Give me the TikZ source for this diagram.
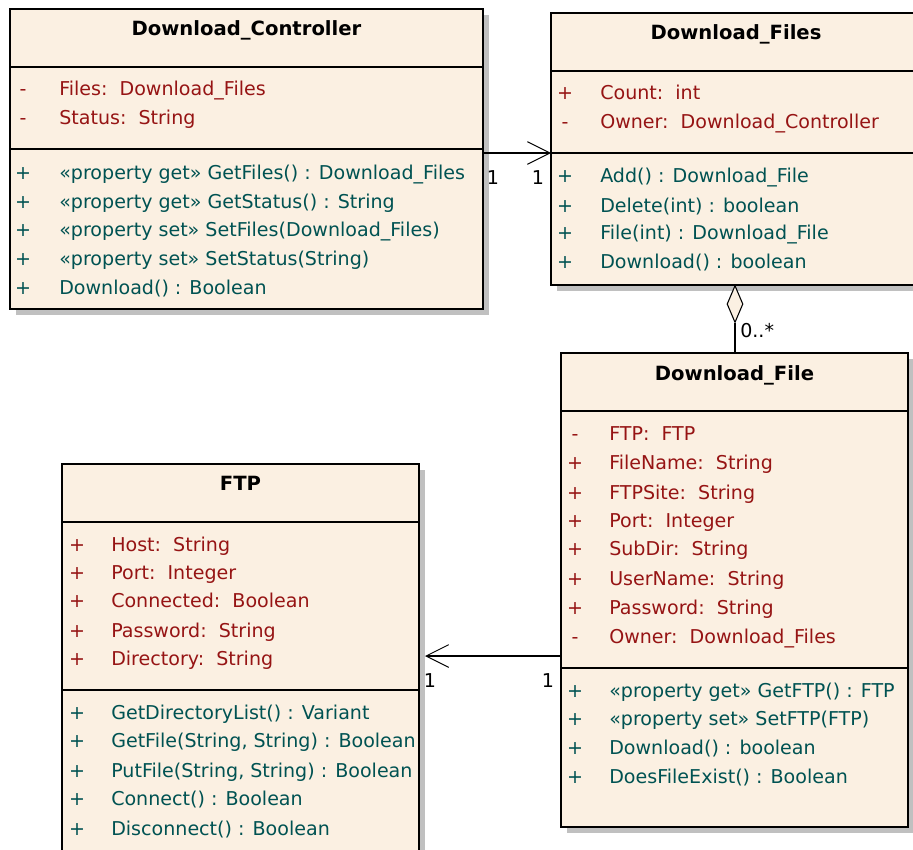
\documentclass[tikz,border=0pt]{standalone}
\usepackage{fontspec}
\setmainfont{DejaVu Sans}
\usetikzlibrary{arrows.meta,shapes.geometric,shadows}
\definecolor{classfill}{RGB}{251,240,226}
\definecolor{attrred}{RGB}{150,20,20}
\definecolor{opteal}{RGB}{0,82,82}
\definecolor{shadowgray}{RGB}{192,192,192}
\tikzset{
  umlbox/.style={draw=black, line width=1.1pt, fill=classfill, inner sep=0pt, outer sep=0pt,
    anchor=north west,
    drop shadow={shadow xshift=4.5pt, shadow yshift=-4.5pt, fill=shadowgray, opacity=1}},
  sepline/.style={line width=1.1pt},
  classtitle/.style={font=\fontsize{14.7}{17}\selectfont\bfseries, anchor=base, inner sep=0pt},
  attrvis/.style={anchor=base, inner sep=0pt, text=attrred},
  opvis/.style={anchor=base, inner sep=0pt, text=opteal},
  attr/.style={anchor=base west, inner sep=0pt, text=attrred},
  oper/.style={anchor=base west, inner sep=0pt, text=opteal},
  mult/.style={anchor=base, inner sep=0pt, text=black},
  assoc/.style={line width=1pt, -{Straight Barb[length=17pt,width=17pt,line width=0.7pt]}},
  aggdiamond/.style={diamond, draw=black, line width=0.8pt, fill=classfill, inner sep=0pt,
    minimum width=12pt, minimum height=27.75pt},
}
\begin{document}
\begin{tikzpicture}[x=0.75pt,y=-0.75pt,font=\fontsize{14.3}{17}\selectfont]
\clip (0,0) rectangle (913,849);
\fill[white] (0,0) rectangle (913,849);

% ---------- Download_Controller ----------
\node[umlbox, minimum width=354.75pt, minimum height=225pt] (dc) at (10,9) {};
\draw[sepline] (dc.west |- 0,67) -- (dc.east |- 0,67);
\draw[sepline] (dc.west |- 0,149) -- (dc.east |- 0,149);
\node[classtitle] (dc-title) at (246.5,35.5) {Download\_Controller};
\foreach \y/\v/\t [count=\i] in {
  88/-/{Files:\ \ Download\_Files},
  117/-/{Status:\ \ String}} {
  \node[attrvis] (dc-av\i) at (23,\y+7.5) {\v};
  \node[attr] (dc-a\i) at (59,\y+7.5) {\t};
}
\foreach \y/\t [count=\i] in {
  172/{«property get» GetFiles() : Download\_Files},
  201/{«property get» GetStatus() : String},
  229/{«property set» SetFiles(Download\_Files)},
  258/{«property set» SetStatus(String)},
  287/{Download() : Boolean}} {
  \node[opvis] (dc-ov\i) at (23,\y+7.5) {+};
  \node[oper] (dc-o\i) at (59,\y+7.5) {\t};
}

% ---------- Download_Files ----------
\node[umlbox, minimum width=277.5pt, minimum height=204pt] (df) at (551,13) {};
\draw[sepline] (df.west |- 0,71) -- (df.east |- 0,71);
\coordinate (df-sep) at (551,153);
\draw[sepline] (df-sep) -- (df.east |- df-sep);
\node[classtitle] (df-title) at (736,39.5) {Download\_Files};
\foreach \y/\v/\t [count=\i] in {
  92/+/{Count:\ \ int},
  121/-/{Owner:\ \ Download\_Controller}} {
  \node[attrvis] (df-av\i) at (565,\y+7.5) {\v};
  \node[attr] (df-a\i) at (600,\y+7.5) {\t};
}
\foreach \y/\t [count=\i] in {
  175/{Add() : Download\_File},
  205/{Delete(int) : boolean},
  232/{File(int) : Download\_File},
  261/{Download() : boolean}} {
  \node[opvis] (df-ov\i) at (565,\y+7.5) {+};
  \node[oper] (df-o\i) at (600,\y+7.5) {\t};
}

% ---------- Download_File ----------
\node[umlbox, minimum width=260.25pt, minimum height=355.5pt] (dfl) at (561,353) {};
\draw[sepline] (dfl.west |- 0,411) -- (dfl.east |- 0,411);
\draw[sepline] (dfl.west |- 0,668) -- (dfl.east |- 0,668);
\node[classtitle] (dfl-title) at (734.5,380.5) {Download\_File};
\foreach \y/\v/\t [count=\i] in {
  433/-/{FTP:\ \ FTP},
  462/+/{FileName:\ \ String},
  492/+/{FTPSite:\ \ String},
  520/+/{Port:\ \ Integer},
  548/+/{SubDir:\ \ String},
  578/+/{UserName:\ \ String},
  607/+/{Password:\ \ String},
  636/-/{Owner:\ \ Download\_Files}} {
  \node[attrvis] (dfl-av\i) at (575,\y+7.5) {\v};
  \node[attr] (dfl-a\i) at (609,\y+7.5) {\t};
}
\foreach \y/\t [count=\i] in {
  690/{«property get» GetFTP() : FTP},
  718/{«property set» SetFTP(FTP)},
  747/{Download() : boolean},
  776/{DoesFileExist() : Boolean}} {
  \node[opvis] (dfl-ov\i) at (575,\y+7.5) {+};
  \node[oper] (dfl-o\i) at (609,\y+7.5) {\t};
}

% ---------- FTP ----------
\node[umlbox, minimum width=267.75pt, minimum height=300pt] (ftp) at (62,464) {};
\draw[sepline] (ftp.west |- 0,522) -- (ftp.east |- 0,522);
\draw[sepline] (ftp.west |- 0,690) -- (ftp.east |- 0,690);
\node[classtitle] (ftp-title) at (240.5,490.5) {FTP};
\foreach \y/\t [count=\i] in {
  544/{Host:\ \ String},
  572/{Port:\ \ Integer},
  600/{Connected:\ \ Boolean},
  630/{Password:\ \ String},
  658/{Directory:\ \ String}} {
  \node[attrvis] (ftp-av\i) at (77,\y+7.5) {+};
  \node[attr] (ftp-a\i) at (111,\y+7.5) {\t};
}
\foreach \y/\t [count=\i] in {
  712/{GetDirectoryList() : Variant},
  740/{GetFile(String, String) : Boolean},
  770/{PutFile(String, String) : Boolean},
  798/{Connect() : Boolean},
  828/{Disconnect() : Boolean}} {
  \node[opvis] (ftp-ov\i) at (77,\y+7.5) {+};
  \node[oper] (ftp-o\i) at (111,\y+7.5) {\t};
}

% ---------- associations ----------
\draw[assoc] (dc.east |- df-sep) -- (df-sep);
\node[mult] (m-dc) at (493,184) {1};
\node[mult] (m-df) at (538,184) {1};

\coordinate (ftp-end) at (425,656);
\draw[assoc] (dfl.west |- ftp-end) -- (ftp-end);
\node[mult] (m-ftp) at (430,687) {1};
\node[mult] (m-dfl) at (548,687) {1};

% ---------- aggregation ----------
\node[aggdiamond, anchor=north] (agg) at (735,285) {};
\draw[line width=1pt] (agg.south) -- (agg.south |- dfl.north);
\node[anchor=base west, inner sep=0pt] (m-agg) at (740,337) {0..*};
\end{tikzpicture}
\end{document}
